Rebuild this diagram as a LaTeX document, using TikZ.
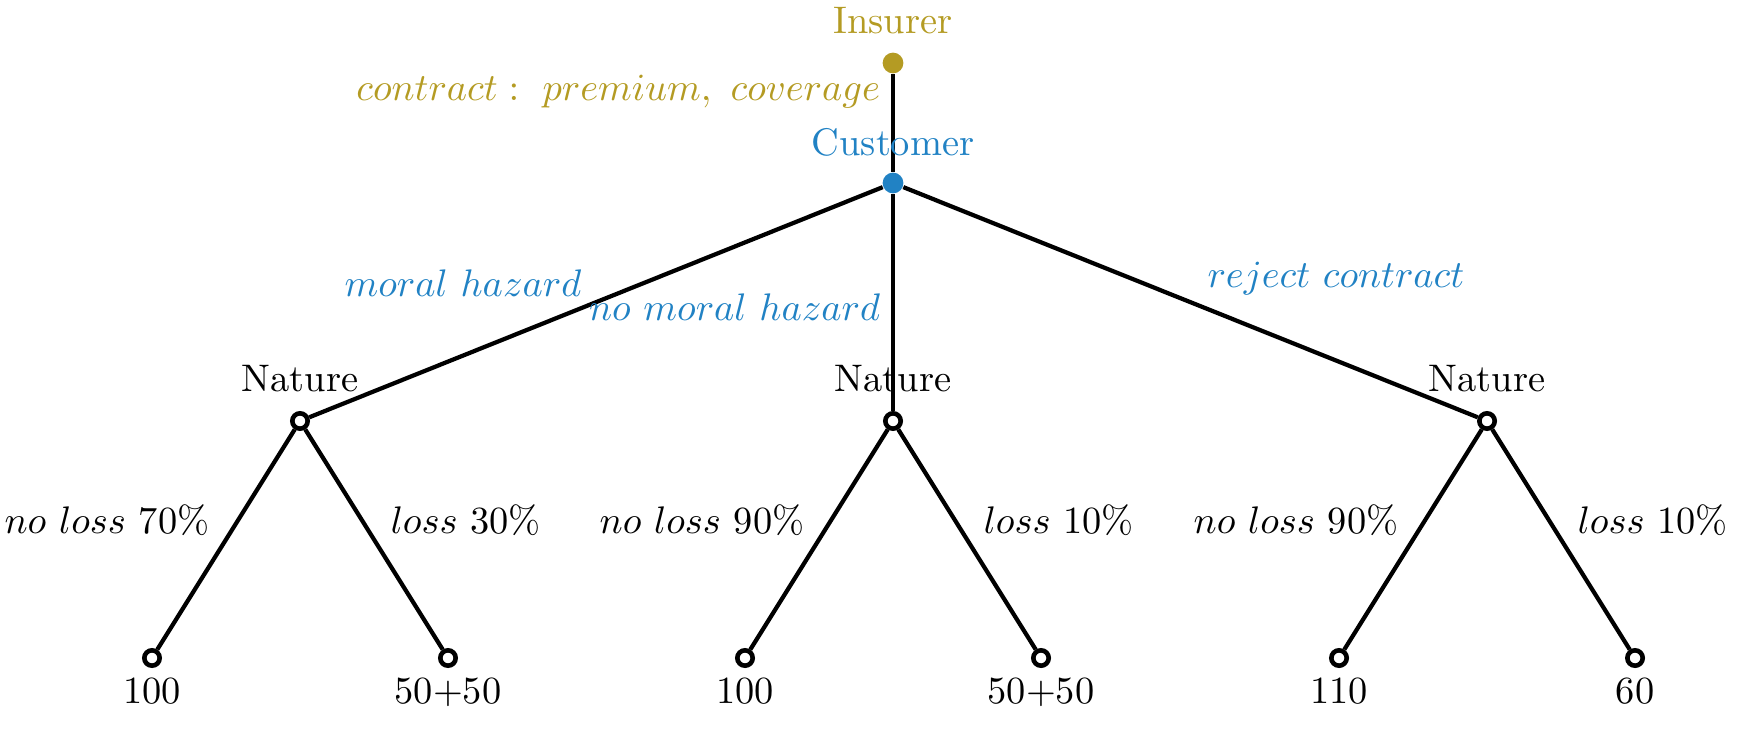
\documentclass[tikz,border=0pt]{standalone}
\definecolor{insgold}{RGB}{180,155,35}
\definecolor{custblue}{RGB}{33,130,196}
\begin{document}
\begin{tikzpicture}[x=0.2603pt,y=-0.2603pt,
  edge/.style={line width=1.1pt},
  opennode/.style={circle,draw,line width=1.2pt,fill=white,minimum size=4pt,inner sep=0pt},
  golddot/.style={circle,fill=insgold,minimum size=5.4pt,inner sep=0pt},
  bluedot/.style={circle,fill=custblue,minimum size=5.4pt,inner sep=0pt},
  lbl/.style={inner sep=0pt}]
\useasboundingbox (0,0) rectangle (1747,729);
% nodes
\node[golddot] (I) at (893,63) {};
\node[bluedot] (C) at (893,183) {};
\node[opennode] (N1) at (300,421) {};
\node[opennode] (N2) at (893,421) {};
\node[opennode] (N3) at (1487,421) {};
\node[opennode] (L1) at (152,658) {};
\node[opennode] (L2) at (448,658) {};
\node[opennode] (L3) at (745,658) {};
\node[opennode] (L4) at (1041,658) {};
\node[opennode] (L5) at (1339,658) {};
\node[opennode] (L6) at (1635,658) {};
% edges
\draw[edge] (I) -- (C);
\draw[edge] (C) -- (N1);
\draw[edge] (C) -- (N2);
\draw[edge] (C) -- (N3);
\draw[edge] (N1) -- (L1);
\draw[edge] (N1) -- (L2);
\draw[edge] (N2) -- (L3);
\draw[edge] (N2) -- (L4);
\draw[edge] (N3) -- (L5);
\draw[edge] (N3) -- (L6);
% player labels
\node[lbl,anchor=base,text=insgold] (tI) at (893,34) {Insurer};
\node[lbl,anchor=base east,text=insgold] (tc) at (881,100) {$contract:\ premium,\ coverage$};
\node[lbl,anchor=base,text=custblue] (tC) at (893,155) {Customer};
\node[lbl,anchor=base,text=custblue] (tmh) at (463,296) {$moral\ hazard$};
\node[lbl,anchor=base east,text=custblue] (tnmh) at (881,320) {$no\ moral\ hazard$};
\node[lbl,anchor=base,text=custblue] (trc) at (1336,287) {$reject\ contract$};
\node[lbl,anchor=base] (tN1) at (300,391) {Nature};
\node[lbl,anchor=base] (tN2) at (893,391) {Nature};
\node[lbl,anchor=base] (tN3) at (1487,391) {Nature};
% chance labels
\node[lbl,anchor=base east] (p1) at (210,533) {$no\ loss$ 70\%};
\node[lbl,anchor=base west] (p2) at (390,533) {$loss$ 30\%};
\node[lbl,anchor=base east] (p3) at (805,533) {$no\ loss$ 90\%};
\node[lbl,anchor=base west] (p4) at (983,533) {$loss$ 10\%};
\node[lbl,anchor=base east] (p5) at (1399,533) {$no\ loss$ 90\%};
\node[lbl,anchor=base west] (p6) at (1577,533) {$loss$ 10\%};
% payoffs
\node[lbl,anchor=base] (v1) at (152,703) {100};
\node[lbl,anchor=base] (v2) at (448,703) {50+50};
\node[lbl,anchor=base] (v3) at (745,703) {100};
\node[lbl,anchor=base] (v4) at (1041,703) {50+50};
\node[lbl,anchor=base] (v5) at (1339,703) {110};
\node[lbl,anchor=base] (v6) at (1635,703) {60};
\end{tikzpicture}
\end{document}
